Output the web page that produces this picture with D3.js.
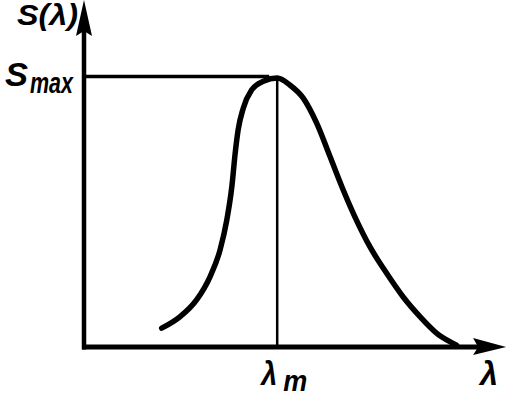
<!DOCTYPE html>
<html>
<head>
<meta charset="utf-8">
<script src="https://cdn.jsdelivr.net/npm/d3@7"></script>
<style>
  html, body { margin: 0; padding: 0; background: #fff; }
  text { font-family: "Liberation Sans", Arial, sans-serif; font-style: italic; font-weight: bold; fill: #000; }
</style>
</head>
<body>
<div id="chart"></div>
<script>
// spectral sensitivity curve S(λ), schematic units (λ 0..100, S relative to Smax)
const lambda = [18.5, 22.9, 26.8, 30.0, 32.4, 34.0, 35.2, 36.0, 36.7, 37.9, 39.9, 42.7, 46.0,
                49.0, 52.2, 55.4, 58.6, 61.4, 64.5, 68.1, 72.1, 76.0, 80.0, 84.0, 87.1, 88.7];
const sens   = [0.070, 0.113, 0.175, 0.261, 0.361, 0.472, 0.596, 0.721, 0.807, 0.887, 0.955, 0.988, 1.0,
                0.974, 0.925, 0.832, 0.707, 0.596, 0.484, 0.372, 0.273, 0.186, 0.113, 0.051, 0.020, 0.007];
const lambdaM = 46.0;
const sMax = 1.0;
const axisEnds = { x: 100.5, y: 1.29 };

const width = 512, height = 396;

const svg = d3.select("#chart").append("svg")
    .attr("width", width)
    .attr("height", height);

const x = d3.scaleLinear().domain([0, 100]).range([84, 504]);
const y = d3.scaleLinear().domain([0, 1]).range([347, 78]);

const data = lambda.map((l, i) => ({ l: l, s: sens[i] }));

// axes
svg.append("line")
    .attr("x1", x(0)).attr("y1", y(0) + 2.5)
    .attr("x2", x(0)).attr("y2", y(axisEnds.y) + 20)
    .attr("stroke", "#000").attr("stroke-width", 4.5);
svg.append("line")
    .attr("x1", x(0) - 2).attr("y1", y(0))
    .attr("x2", x(axisEnds.x) - 20).attr("y2", y(0))
    .attr("stroke", "#000").attr("stroke-width", 5);

// arrow heads
const yTip = [x(0), Math.max(0, y(axisEnds.y))];
svg.append("path")
    .attr("d", `M${yTip[0]},${yTip[1]} L${yTip[0] + 8},${yTip[1] + 36} L${yTip[0]},${yTip[1] + 31} L${yTip[0] - 8},${yTip[1] + 36} Z`)
    .attr("fill", "#000");
const xTip = [x(axisEnds.x), y(0)];
svg.append("path")
    .attr("d", `M${xTip[0]},${xTip[1]} L${xTip[0] - 33},${xTip[1] - 9} L${xTip[0] - 28},${xTip[1]} L${xTip[0] - 33},${xTip[1] + 8} Z`)
    .attr("fill", "#000");

// Smax guide and λm line
svg.append("line")
    .attr("x1", x(0)).attr("y1", y(sMax) - 1.5)
    .attr("x2", x(lambdaM) - 8).attr("y2", y(sMax) - 1.5)
    .attr("stroke", "#000").attr("stroke-width", 3.5);
svg.append("line")
    .attr("x1", x(lambdaM)).attr("y1", y(sMax))
    .attr("x2", x(lambdaM)).attr("y2", y(0))
    .attr("stroke", "#000").attr("stroke-width", 2.5);

// curve
const line = d3.line()
    .x(d => x(d.l))
    .y(d => y(d.s))
    .curve(d3.curveMonotoneX);

svg.append("path")
    .datum(data)
    .attr("d", line)
    .attr("fill", "none")
    .attr("stroke", "#000")
    .attr("stroke-width", 5.5)
    .attr("stroke-linecap", "round");

// labels (widths squeezed to the narrow lettering of the original)
function label(txt, px, py, size, len) {
    svg.append("text")
        .attr("x", px).attr("y", py)
        .attr("font-size", size)
        .attr("textLength", len)
        .attr("lengthAdjust", "spacingAndGlyphs")
        .text(txt);
}

label("S(λ)", 17, 25, 29, 61);
label("S", 5, 86, 33, 23);
label("max", 30, 93, 30, 43);
label("λ", x(lambdaM) - 16, 385, 34, 16);
label("m", x(lambdaM) + 6, 391, 29, 24);
label("λ", 480, 385, 34, 18);
</script>
</body>
</html>
